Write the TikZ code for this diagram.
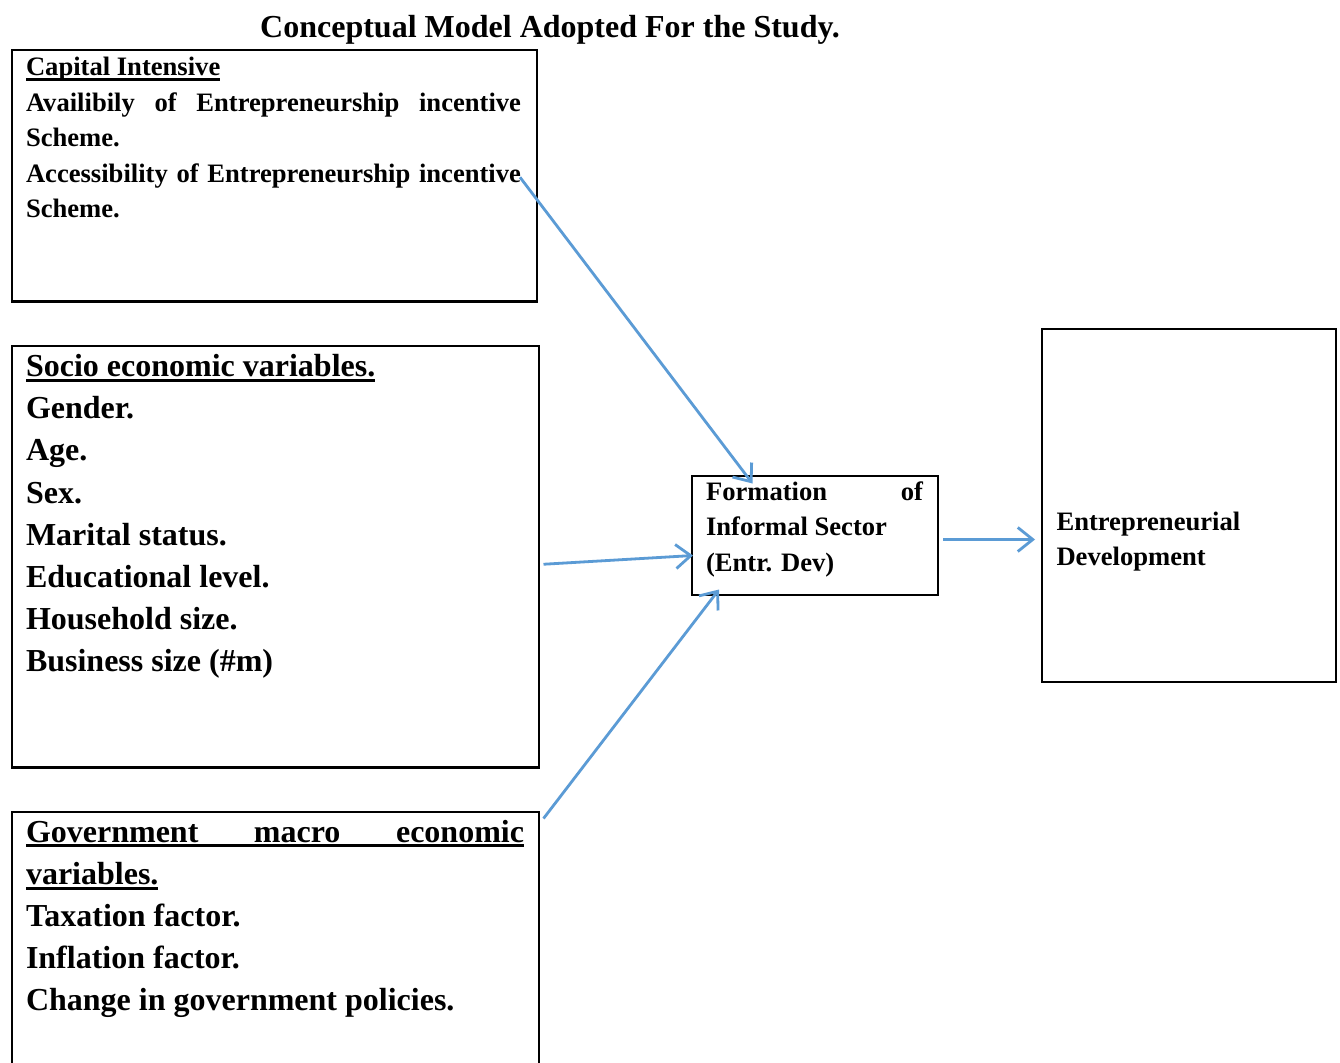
\documentclass[tikz,border=0pt]{standalone}
\usepackage{fontspec}
\setmainfont{Liberation Serif}
\usetikzlibrary{arrows.meta, positioning, calc}
\definecolor{arrowBlue}{RGB}{91, 155, 213}
\newcommand\boxfont{\fontsize{26.6pt}{35.4pt}\selectfont\bfseries}
\newcommand\varfont{\fontsize{32pt}{42.2pt}\selectfont\bfseries}
\newcommand\undl[1]{\leavevmode\setbox0=\hbox{#1}\rlap{\rule[-0.17em]{\wd0}{0.095em}}\box0}

\begin{document}
\begin{tikzpicture}[x=1pt, y=-1pt,
    frame/.style={rectangle, draw=black, line width=2.2pt, inner sep=0pt, outer sep=0pt, anchor=north west},
    txt/.style={inner sep=0pt, outer sep=0pt, anchor=base west, align=flush left,
      execute at begin node={\spaceskip=0pt\xspaceskip=0pt}},
    flow/.style={-{Straight Barb[length=15pt, width=24pt]}, line width=2.8pt, draw=arrowBlue}
  ]
    \fill[white] (0,0) rectangle (1340,1062);
    \useasboundingbox (0,0) rectangle (1340,1062);

    % Title
    \node[anchor=base, inner sep=0pt, font=\varfont] (title) at (550,38) {Conceptual Model Adopted For the Study.};

    % Factor boxes on the left
    \node[frame, minimum width=525pt, minimum height=251.5pt] (cap) at (12,50) {};
    \node[frame, below=44.5pt of cap.south west, anchor=north west, minimum width=527pt, minimum height=421.5pt] (socio) {};
    \node[frame, below=44.5pt of socio.south west, anchor=north west, minimum width=527pt, minimum height=300pt] (gov) {};

    \node[txt, text width=495pt, font=\boxfont] (capTxt) at ($(cap.north west)+(14,26)$)
      {\undl{Capital Intensive}\\
       \makebox[\linewidth][s]{Availibily of Entrepreneurship incentive}\\
       Scheme.\\
       \makebox[\linewidth][s]{Accessibility of Entrepreneurship incentive}\\
       Scheme.};
    \node[txt, text width=498pt, font=\varfont] (socioTxt) at ($(socio.north west)+(14,30.5)$)
      {\undl{Socio economic variables.}\\ Gender.\\ Age.\\ Sex.\\ Marital status.\\
       Educational level.\\ Household size.\\ Business size (\#m)};
    \node[txt, text width=498pt, font=\varfont] (govTxt) at ($(gov.north west)+(14,30)$)
      {\undl{\makebox[\linewidth][s]{Government macro economic}}\\ \undl{variables.}\\
       Taxation factor.\\ Inflation factor.\\ Change in government policies.};

    % Middle and outcome boxes
    \node[frame, minimum width=246pt, minimum height=119pt] (form) at (692,476) {};
    \node[txt, text width=217pt, font=\boxfont] (formTxt) at ($(form.north west)+(14,24.5)$)
      {\makebox[\linewidth][s]{Formation of}\\ Informal Sector\\ (Entr. Dev)};

    \node[frame, minimum width=294pt, minimum height=353pt] (dev) at (1042,329) {};
    \node[txt, text width=260pt, font=\boxfont] (devTxt) at ($(dev.north west)+(14.5,201)$)
      {Entrepreneurial\\ Development};

    % Connectors
    \draw[flow] ($(cap.east)+(-17,1.5)$) -- ($(form.north west)+(60.5,7.5)$);
    \draw[flow] ($(socio.east)+(4.5,7.5)$) -- ($(form.west)+(1,20)$);
    \draw[flow] ($(gov.north east)+(4.5,6.5)$) -- ($(form.south west)+(27,-5.5)$);
    \draw[flow] ($(form.east)+(5,4)$) -- ($(dev.west)+(-7,34)$);
\end{tikzpicture}
\end{document}
